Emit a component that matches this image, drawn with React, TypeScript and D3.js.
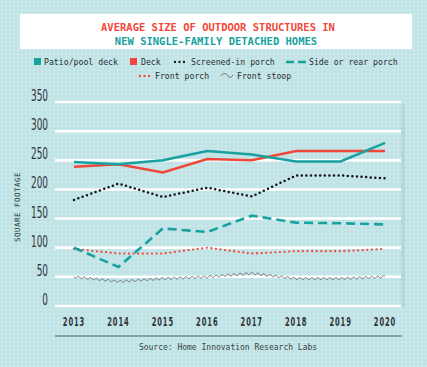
import * as d3 from "d3"

const years = ["2013", "2014", "2015", "2016", "2017", "2018", "2019", "2020"]
const yTicks = [0, 50, 100, 150, 200, 250, 300, 350]

const patioDeck = [247, 243, 250, 266, 260, 248, 248, 280]
const deck = [239, 243, 229, 252, 250, 266, 266, 266]
const screenedPorch = [182, 210, 187, 203, 188, 224, 224, 219]
const sideRearPorch = [100, 67, 133, 127, 155, 143, 142, 140]
const frontPorch = [98, 90, 90, 100, 90, 94, 94, 98]
const frontStoop = [50, 42, 47, 50, 56, 47, 47, 50]

const TEAL = "#17a19f"
const RED = "#f0473a"
const INK = "#2e3436"

// wiggly line for the "front stoop" series
function curveWavy(context: any) {
  let pts: [number, number][] = []
  return {
    areaStart() {},
    areaEnd() {},
    lineStart() {
      pts = []
    },
    point(x: number, y: number) {
      pts.push([x, y])
    },
    lineEnd() {
      if (!pts.length) return
      const amp = 1
      const wave = 6
      let dist = 0
      context.moveTo(pts[0][0], pts[0][1])
      for (let i = 1; i < pts.length; i++) {
        const [x0, y0] = pts[i - 1]
        const [x1, y1] = pts[i]
        const len = Math.hypot(x1 - x0, y1 - y0)
        const nx = -(y1 - y0) / len
        const ny = (x1 - x0) / len
        const steps = Math.ceil(len * 2)
        for (let s = 1; s <= steps; s++) {
          const t = s / steps
          const d = dist + t * len
          const o = amp * Math.sin((2 * Math.PI * d) / wave)
          context.lineTo(x0 + (x1 - x0) * t + nx * o, y0 + (y1 - y0) * t + ny * o)
        }
        dist += len
      }
    },
  }
}

export default function App() {
  const width = 427
  const height = 367
  const x = d3.scalePoint<string>().domain(years).range([74, 385])
  const y = d3.scaleLinear().domain([0, 350]).range([306, 102])

  const line = d3
    .line<number>()
    .x((_, i) => x(years[i]) as number)
    .y((d) => y(d))
  const wavy = d3
    .line<number>()
    .x((_, i) => x(years[i]) as number)
    .y((d) => y(d))
    .curve(curveWavy as any)

  const mono = "'DejaVu Sans Mono', monospace"
  const cond = "'DejaVu Sans Condensed', 'DejaVu Sans', sans-serif"

  return (
    <svg
      width={width}
      height={height}
      style={{ position: "absolute", left: 0, top: 0 }}
    >
      <defs>
        <pattern id="dots" width="4" height="4" patternUnits="userSpaceOnUse">
          <rect width="4" height="4" fill="#bde0e3" />
          <rect x="0.5" y="0.5" width="3" height="3" fill="#cae9ec" />
        </pattern>
      </defs>
      <rect width={width} height={height} fill="url(#dots)" />

      {/* title box */}
      <rect x={20} y={14} width={392} height={35} fill="#fff" />
      <text x={218} y={31} textAnchor="middle" fill={RED} fontFamily={mono} fontWeight="bold" fontSize={10.5}>
        AVERAGE SIZE OF OUTDOOR STRUCTURES IN
      </text>
      <text x={216} y={45} textAnchor="middle" fill={TEAL} fontFamily={mono} fontWeight="bold" fontSize={10.5}>
        NEW SINGLE-FAMILY DETACHED HOMES
      </text>

      {/* legend */}
      <g fontFamily={mono} fontSize={8.2} fill="#2a2f30">
        <rect x={34} y={58} width={7} height={7} fill={TEAL} />
        <text x={44} y={65}>Patio/pool deck</text>
        <rect x={130} y={58} width={7} height={7} fill={RED} />
        <text x={141} y={65}>Deck</text>
        <path d="M175,62H188" stroke="#111" strokeWidth={2.3} strokeLinecap="round" strokeDasharray="0 4.5" />
        <text x={191} y={65}>Screened-in porch</text>
        <path d="M286,62H306" stroke={TEAL} strokeWidth={2.5} strokeDasharray="8 4" />
        <text x={309} y={65}>Side or rear porch</text>
        <path d="M140,76H152" stroke={RED} strokeWidth={2.3} strokeLinecap="round" strokeDasharray="0 4.5" />
        <text x={155} y={79}>Front porch</text>
        <path d="M221,75.5C224,72 227,74 228,76S231,78 233,75" stroke="#555" strokeWidth={0.8} fill="none" />
        <text x={237} y={79}>Front stoop</text>
      </g>

      {/* panel shadow */}
      <rect x={401} y={104} width={4} height={203} fill="#000" fillOpacity={0.06} />

      {/* gridlines */}
      {yTicks.map((t) => (
        <line key={t} x1={55} x2={401} y1={y(t)} y2={y(t)} stroke="#fff" strokeWidth={2.5} />
      ))}

      {/* y tick labels */}
      {yTicks.map((t) => (
        <text
          key={t}
          transform={`translate(48,${y(t) - 1}) scale(0.62,1)`}
          textAnchor="end"
          fontFamily={cond}
          fontSize={16}
          fill={INK}
        >
          {t}
        </text>
      ))}
      <text
        transform="translate(19.5,207) rotate(-90)"
        textAnchor="middle"
        fontFamily={mono}
        fontSize={7.5}
        letterSpacing={0.5}
        fill={INK}
      >
        SQUARE FOOTAGE
      </text>

      {/* x labels */}
      {years.map((yr) => (
        <text
          key={yr}
          transform={`translate(${x(yr)},326) scale(0.6,1)`}
          textAnchor="middle"
          fontFamily={cond}
          fontWeight="bold"
          fontSize={12.5}
          letterSpacing={1.5}
          fill={INK}
        >
          {yr}
        </text>
      ))}

      {/* series */}
      <path d={wavy(frontStoop) ?? ""} fill="none" stroke="#555" strokeWidth={0.8} />
      <path
        d={line(frontPorch) ?? ""}
        fill="none"
        stroke={RED}
        strokeWidth={2.3}
        strokeLinecap="round"
        strokeDasharray="0 4.6"
      />
      <path d={line(sideRearPorch) ?? ""} fill="none" stroke={TEAL} strokeWidth={2.6} strokeDasharray="9 5" />
      <path
        d={line(screenedPorch) ?? ""}
        fill="none"
        stroke="#111"
        strokeWidth={2.5}
        strokeLinecap="round"
        strokeDasharray="0 4.6"
      />
      <path d={line(deck) ?? ""} fill="none" stroke={RED} strokeWidth={2.5} />
      <path d={line(patioDeck) ?? ""} fill="none" stroke={TEAL} strokeWidth={2.5} />

      {/* footer */}
      <line x1={55} x2={402} y1={336} y2={336} stroke="#7d8b8d" strokeWidth={1.5} />
      <text x={228} y={350} textAnchor="middle" fontFamily={mono} fontSize={8} fill="#3a4244">
        Source: Home Innovation Research Labs
      </text>
    </svg>
  )
}
